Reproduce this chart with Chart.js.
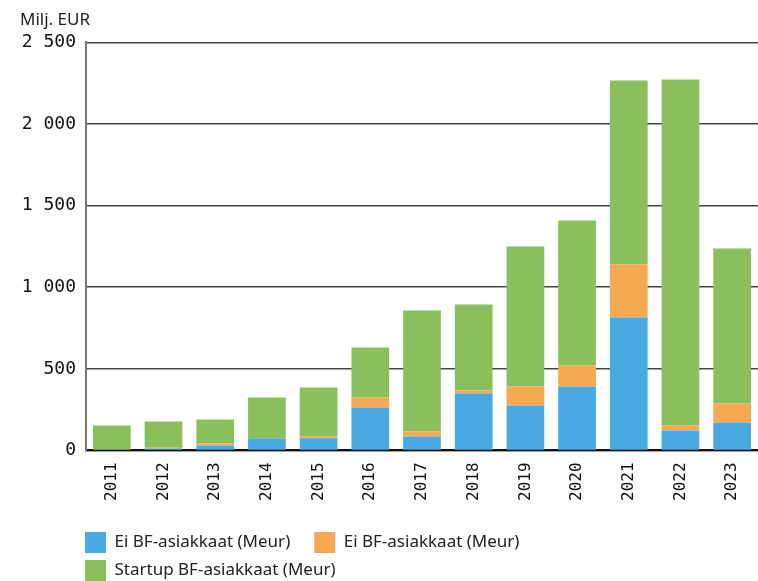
<!DOCTYPE html>
<html>
<head>
<meta charset="utf-8">
<script src="https://cdn.jsdelivr.net/npm/chart.js@4/dist/chart.umd.min.js"></script>
<style>
  html, body { margin: 0; padding: 0; background: #fff; }
  #wrap { width: 758px; height: 581px; }
</style>
</head>
<body>
<div id="wrap"><canvas id="chart"></canvas></div>
<script>
const years = ["2011", "2012", "2013", "2014", "2015", "2016", "2017", "2018", "2019", "2020", "2021", "2022", "2023"];
// Ei BF-asiakkaat (blue)
const eiBfBlue = [5, 12, 30, 74, 75, 263, 86, 349, 276, 392, 815, 123, 172];
// Ei BF-asiakkaat (orange)
const eiBfOrange = [0, 5, 12, 0, 12, 62, 30, 19, 116, 129, 325, 30, 116];
// Startup BF-asiakkaat
const startupBf = [148, 161, 148, 251, 299, 306, 742, 527, 858, 888, 1127, 2120, 950];
const yTicks = [0, 500, 1000, 1500, 2000, 2500];

const legendPad = 7;

// put the legend under the axis labels, first box in line with the plot's left edge
const legendShift = {
    id: 'legendShift',
    afterLayout(chart) {
        const lg = chart.legend;
        lg.left = chart.chartArea.left - legendPad - 1;
        lg.right = 758;
        lg.top = 525;
        lg.bottom = 581;
        lg.width = lg.right - lg.left;
        lg.height = lg.bottom - lg.top;
    }
};

new Chart(document.getElementById('chart'), {
    type: 'bar',
    data: {
        labels: years,
        datasets: [
            { label: "Ei BF-asiakkaat (Meur)", data: eiBfBlue, backgroundColor: "#48aae1" },
            { label: "Ei BF-asiakkaat (Meur)", data: eiBfOrange, backgroundColor: "#f7a853" },
            { label: "Startup BF-asiakkaat (Meur)", data: startupBf, backgroundColor: "#89c05b" }
        ]
    },
    plugins: [legendShift],
    options: {
        responsive: true,
        maintainAspectRatio: false,
        animation: false,
        categoryPercentage: 0.73,
        barPercentage: 1,
        layout: { padding: { left: 20, right: 0, top: 10, bottom: 2 } },
        plugins: {
            title: {
                display: true,
                text: "Milj. EUR",
                align: 'start',
                color: '#222',
                font: { family: "Noto Sans", size: 17, weight: 'normal' },
                padding: { top: 0, bottom: 12 }
            },
            legend: {
                position: 'bottom',
                align: 'start',
                fullSize: false,
                labels: {
                    boxWidth: 21,
                    boxHeight: 21,
                    padding: legendPad,
                    color: '#222',
                    font: { family: "Noto Sans", size: 17 },
                    // a little extra room after each label
                    generateLabels: (chart) => Chart.defaults.plugins.legend.labels.generateLabels(chart)
                        .map(item => ({ ...item, text: item.text + "\u2002\u2002" }))
                }
            },
            tooltip: { enabled: false }
        },
        scales: {
            x: {
                stacked: true,
                afterFit: (scale) => { scale.paddingRight = -2; },
                grid: { display: false, drawTicks: false },
                border: { color: '#111', width: 2 },
                ticks: {
                    color: '#111',
                    font: { family: "DejaVu Sans Mono", size: 16 },
                    maxRotation: 90,
                    minRotation: 90,
                    padding: 12
                }
            },
            y: {
                stacked: true,
                min: 0,
                max: 2500,
                afterBuildTicks: (scale) => { scale.ticks = yTicks.map(v => ({ value: v })); },
                afterFit: (scale) => { scale.width = 66; },
                grid: { color: '#444', lineWidth: 1.5, drawTicks: false },
                border: { color: '#777', width: 2 },
                ticks: {
                    color: '#111',
                    font: { family: "DejaVu Sans Mono", size: 18 },
                    padding: 10,
                    callback: (v) => v >= 1000 ? String(v).slice(0, -3) + "\u2009" + String(v).slice(-3) : String(v)
                }
            }
        }
    }
});
</script>
</body>
</html>
